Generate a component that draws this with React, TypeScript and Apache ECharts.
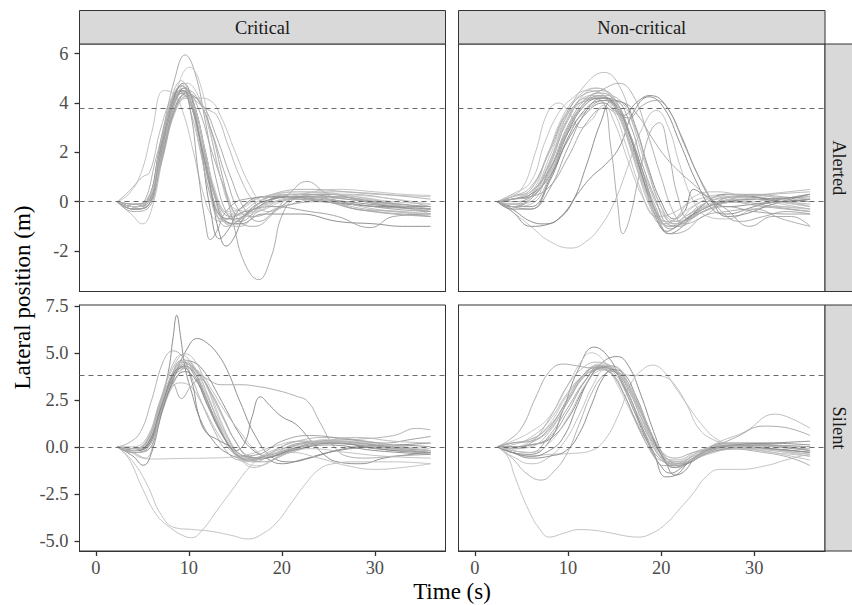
import React, { useEffect, useRef } from 'react';
import * as echarts from 'echarts';

type Pt = [number, number];

// ---------- data ----------
const COLUMNS = ['Critical', 'Non-critical'];
const ROWS = ['Alerted', 'Silent'];
const X_TICKS = [0, 10, 20, 30];
const Y_TICKS_ALERTED = [-2, 0, 2, 4, 6];
const Y_TICKS_SILENT = [-5, -2.5, 0, 2.5, 5, 7.5];
const REF_LINES = [0, 3.8];
const X_RANGE = [-1.76, 37.6];
const Y_RANGE_ALERTED = [-3.64, 6.39];
const Y_RANGE_SILENT = [-5.54, 7.54];

const CRITICAL_ALERTED: Pt[][] = [
  [[2.3,0],[4,-0.2],[5,-0.1],[6.5,1.8],[8,3.9],[9,4.5],[10,4.2],[11,2.8],[12,1.0],[13,-0.5],[14,-1.0],[15.5,-0.7],[18,0],[22,0.2],[27,0.1],[32,-0.1],[36,-0.2]],
  [[2.3,0],[4,-0.3],[5.3,-0.2],[6.8,2.0],[8.2,4.2],[9.2,4.7],[10.2,4.1],[11.3,2.4],[12.5,0.3],[13.8,-0.8],[15,-0.9],[17,-0.3],[21,0.3],[26,0.2],[31,0],[36,-0.3]],
  [[2.3,0],[4,-0.2],[5.5,0],[7,2.5],[8.5,5.0],[9.6,5.95],[10.6,5.3],[11.8,3.2],[13,0.8],[14.3,-0.6],[15.5,-0.8],[18,-0.1],[22,0.3],[27,0.1],[32,-0.2],[36,-0.4]],
  [[2.3,0],[4,-0.1],[5.5,0.1],[7,2.0],[8.5,4.3],[10.1,5.45],[11.2,4.8],[12.5,2.5],[13.8,0.5],[15,-0.3],[17,-0.4],[20,0],[24,0.3],[28,0.2],[32,0],[36,-0.1]],
  [[2.3,0],[3.5,0.3],[4.8,1.1],[6,2.8],[7.3,4.5],[8.3,4.4],[9.3,3.7],[10.5,2.0],[11.5,0.4],[12.5,-0.6],[13.5,-0.8],[15,-0.4],[18,0.2],[23,0.4],[28,0.2],[32,-0.1],[36,-0.5]],
  [[2.3,0],[3.5,0.4],[5,1.0],[5.8,1.2],[7,3.0],[8.3,4.3],[9.3,4.5],[10.3,3.5],[11.5,1.6],[12.5,0],[13.5,-0.7],[15,-0.6],[18,0.1],[22,0.3],[27,0.3],[32,0.1],[36,-0.2]],
  [[2.3,0],[3.8,-0.5],[5,-0.9],[6,-0.3],[7.3,2.0],[8.5,3.8],[9.5,4.3],[10.5,3.8],[11.8,2.0],[13,0.2],[14.5,-0.5],[16,-0.5],[19,0],[23,0.1],[28,-0.3],[32,-0.4],[36,-0.6]],
  [[2.3,0],[4,-0.2],[5.5,0],[7,2.4],[8.5,4.4],[9.3,4.7],[10.2,3.6],[11,1.2],[11.8,-0.9],[12.3,-1.54],[13,-1.2],[14,-0.4],[16,0.1],[20,0.2],[25,0],[30,-0.2],[36,-0.3]],
  [[2.3,0],[4,-0.3],[5.5,-0.2],[7,1.8],[8.5,4.0],[9.5,4.6],[10.5,4.0],[11.5,2.4],[12.5,0.2],[13.3,-1.3],[14,-1.8],[14.8,-1.5],[16,-0.6],[18,0],[22,0.2],[27,0],[32,-0.2],[36,-0.3]],
  [[2.3,0],[4,-0.2],[5.5,0],[7,2.2],[8.5,4.3],[9.4,4.8],[10.3,4.2],[11.3,2.2],[12.3,-0.3],[13.3,-1.5],[14.3,-1.1],[15.5,-0.3],[18,0.2],[22,0.1],[27,-0.1],[32,-0.2],[36,-0.2]],
  [[2.3,0],[4,-0.2],[5.5,-0.1],[7,1.6],[8.5,3.8],[9.8,4.4],[11,4.1],[12.3,3.0],[13.5,1.2],[14.8,-0.9],[16,-2.5],[17.5,-3.16],[18.8,-2.3],[20.2,-0.4],[22,0.2],[25,0.3],[29,0],[33,-0.2],[36,-0.3]],
  [[2.3,0],[4,-0.1],[5.5,0.1],[7,1.7],[8.5,3.6],[9.8,4.2],[11,4.2],[12.3,4.1],[13.5,3.4],[15,2.0],[16.5,0.7],[17.8,0],[19.5,-0.2],[22,0.3],[26,0.4],[30,0.3],[36,0.2]],
  [[2.3,0],[4,-0.2],[5.5,-0.1],[7.2,2.0],[8.7,4.0],[9.8,4.4],[11,3.8],[12.5,2.0],[14,0.4],[15.5,-0.8],[17,-1.0],[19,-0.5],[21,0.4],[22.7,0.82],[24.5,0.4],[27,-0.2],[30,-0.4],[33,-0.5],[36,-0.6]],
  [[2.3,0],[4,-0.2],[5.5,0],[7,2.1],[8.5,4.2],[9.7,4.4],[11,4.0],[12.2,3.7],[13,3.5],[14.2,2.3],[15.5,1.0],[17,0],[18.5,-0.4],[21,-0.1],[25,0.2],[30,0],[36,-0.4]],
  [[2.3,0],[4,-0.2],[5.5,-0.1],[7,2.1],[8.5,4.2],[9.4,4.5],[10.4,3.8],[11.5,2.0],[12.8,0.2],[14,-0.8],[15.5,-0.9],[18,-0.5],[22,-0.5],[26,-0.8],[30,-0.9],[33,-1.0],[36,-1.0]],
  [[2.3,0],[4,-0.2],[5.5,-0.1],[7.1,2.3],[8.6,4.3],[9.6,4.6],[10.6,3.9],[11.8,2.0],[13,0.1],[14.5,-0.6],[16,-0.4],[19,-0.2],[23,-0.4],[26,-0.6],[29.5,-1.05],[32,-0.6],[36,-0.5]],
  [[2.3,0],[4,-0.3],[5.5,-0.2],[7,1.9],[8.6,4.1],[9.7,4.5],[10.8,3.6],[12,1.6],[13.2,-0.2],[14.5,-0.9],[16,-0.6],[19,0.3],[23,0.5],[27,0.4],[31,0.3],[36,0.1]],
  [[2.3,0],[4,-0.1],[5.5,0],[7,2.4],[8.4,4.5],[9.2,4.9],[10,4.3],[11,2.6],[12.2,0.4],[13.5,-0.7],[15,-0.7],[17,-0.2],[20,0.3],[25,0.1],[30,-0.3],[36,-0.5]],
  [[2.3,0],[4,-0.1],[5.5,0],[7,1.8],[8.6,3.8],[10,4.3],[11.5,3.9],[13,2.6],[14.5,1.0],[16,-0.3],[17.5,-0.8],[19.5,-0.3],[22,0.2],[26,0.2],[30,0],[36,-0.2]],
  [[2.3,0],[4,-0.2],[5.5,0],[7,2.0],[8.5,4.0],[9.5,4.2],[10.5,3.9],[11.6,2.3],[12.8,0.5],[14,-0.4],[15.5,-0.3],[18,0.2],[22,0.4],[26,0.3],[30,0.2],[36,-0.1]],
  [[2.3,0],[4,-0.4],[5.5,-0.3],[7,1.5],[8.7,3.9],[10,4.5],[11.2,4.0],[12.5,2.8],[14,1.0],[15.5,-0.4],[17,-0.6],[20,-0.2],[24,0],[28,-0.3],[32,-0.5],[36,-0.6]],
  [[2.3,0],[4,-0.3],[5.5,-0.2],[7,2.0],[8.4,4.1],[9.4,4.6],[10.4,3.9],[11.5,2.2],[12.7,0.3],[14,-0.9],[15.5,-1.0],[17.5,-0.4],[21,0.1],[25,0],[29,-0.3],[33,-0.4],[36,-0.5]],
  [[2.3,0],[4,-0.2],[5.5,-0.1],[7.2,2.2],[8.6,4.2],[9.8,4.8],[11,4.3],[12.2,2.9],[13.4,1.0],[14.6,-0.3],[16,-0.6],[18.5,-0.1],[22,0.3],[26,0.5],[30,0.4],[33,0.3],[36,0.25]],
  [[2.3,0],[4,-0.3],[5.5,-0.2],[6.9,1.8],[8.3,3.9],[9.2,4.4],[10.1,4.0],[11.2,2.5],[12.3,0.6],[13.5,-0.6],[15,-0.7],[17,-0.3],[20,0.2],[24,0.1],[28,-0.1],[32,-0.3],[36,-0.4]],
];

const NONCRITICAL_ALERTED: Pt[][] = [
  [[2.4,0],[4,0.2],[6,0.6],[8,2.0],[10,3.6],[12,4.1],[13.8,4.2],[15.5,3.6],[17,2.3],[18.5,0.8],[20,-0.4],[21.5,-0.9],[23,-0.6],[26,0],[30,0.1],[33,0],[36,-0.1]],
  [[2.4,0],[4,-0.1],[6,0.3],[8,1.6],[10,3.6],[12,4.8],[13.9,5.24],[15.5,4.7],[17,3.1],[18.5,1.3],[20,-0.2],[21.5,-0.8],[23,-0.5],[26,0.1],[30,0.2],[33,0],[36,-0.2]],
  [[2.4,0],[3.5,0.2],[5,0.5],[6.5,2.0],[7.8,3.6],[9,4.0],[10.3,3.5],[11.3,3.0],[12.5,3.3],[13.8,3.9],[15,3.2],[16.5,1.6],[18,0.2],[19.5,-0.6],[21,-0.5],[24,0.1],[28,0.3],[32,0.2],[36,0]],
  [[2.4,0],[4,-0.4],[6,-1.0],[8,-0.9],[9.5,-0.5],[11,0.3],[12.5,1.0],[14,1.5],[15.5,2.2],[17,3.6],[18.7,4.25],[20.3,3.8],[22,2.4],[23.8,0.8],[25.5,-0.3],[27,-0.5],[30,-0.2],[33,0.1],[36,0.3]],
  [[2.4,0],[4,-0.2],[6,0.2],[8,1.5],[10,3.3],[12,4.2],[13.6,4.1],[14.6,2.2],[15.3,0],[15.9,-1.3],[16.6,-0.7],[17.6,1.0],[18.8,2.8],[19.8,3.2],[20.8,2.0],[21.8,0.2],[23,-0.7],[25,-0.3],[28,0],[32,-0.2],[36,-0.4]],
  [[2.4,0],[4,-0.4],[6,-1.0],[8,-1.6],[10.3,-1.88],[12,-1.6],[13.5,-1.0],[15,0],[16.5,1.5],[18,3.0],[19.5,3.7],[20.8,3.0],[22,1.5],[23.5,0],[25,-0.6],[27,-0.7],[30,-0.3],[33,-0.2],[36,-0.3]],
  [[2.4,0],[4,0.1],[6,0.3],[8,1.8],[9.5,3.2],[11,4.0],[12.5,4.3],[14,4.2],[15.5,3.4],[17,1.8],[18.3,0.4],[19.5,-0.6],[21,-1.0],[23,-0.5],[26,-0.1],[30,0],[33,-0.2],[36,-0.3]],
  [[2.4,0],[4,-0.2],[6,0.1],[8,1.2],[10,3.0],[11.8,4.0],[13.5,4.3],[15,3.9],[16.5,2.6],[18,1.0],[19.5,-0.4],[21,-1.1],[22.5,-0.8],[25,-0.2],[28,0.2],[32,0.1],[36,0]],
  [[2.4,0],[4,-0.3],[6,-0.3],[8,0.8],[10,2.6],[12,3.8],[13.8,4.1],[15.3,3.8],[16.8,2.6],[18.2,1.0],[19.5,-0.5],[20.8,-1.3],[22,-1.1],[24,-0.3],[27,0.3],[30,0.2],[33,0],[36,0.1]],
  [[2.4,0],[4,0.1],[6,0.3],[8,1.0],[10,2.5],[12,3.6],[13.8,4.0],[15,3.7],[16,3.5],[17.3,4.0],[18.8,4.3],[20.3,4.0],[22,2.8],[23.8,1.2],[25.5,0],[27,-0.6],[29,-0.5],[32,-0.1],[36,0.3]],
  [[2.4,0],[4,0.1],[6,0.2],[8,0.6],[10,1.8],[12,3.2],[14,3.8],[15.5,3.5],[16.5,3.4],[18,3.9],[19.5,4.1],[21,3.6],[22.5,2.3],[24.5,0.7],[26.5,-0.4],[28.5,-0.8],[31,-0.6],[33.5,-0.4],[36,-0.5]],
  [[2.4,0],[4,-0.3],[6,-0.8],[7.5,-0.9],[9,-0.7],[10.5,0],[12,1.5],[13.5,3.2],[14.8,4.1],[16,4.0],[17.3,3.0],[18.6,1.4],[20,0],[21.4,-0.7],[22.5,-0.4],[23.5,0.5],[24.5,0.3],[27,-0.2],[30,-0.1],[33,0],[36,0.1]],
  [[2.4,0],[4,0.2],[6,0.5],[8,2.1],[10,3.7],[12,4.4],[13.7,4.5],[15.3,4.0],[16.8,2.5],[18.2,0.8],[19.6,-0.6],[21,-1.3],[22.5,-1.2],[24.5,-0.6],[27,-0.4],[30,-0.3],[33,-0.7],[36,-1.0]],
  [[2.4,0],[4,-0.1],[6,0.0],[8,1.4],[10,3.4],[11.6,4.3],[13,4.6],[14.5,4.3],[16,3.0],[17.5,1.4],[19,0],[20.5,-0.8],[22,-0.8],[24,-0.2],[27,0.2],[31,0.3],[36,0.5]],
  [[2.4,0],[4,0.3],[6,0.8],[7.5,2.4],[9,3.6],[10.5,4.2],[12,4.5],[13.5,4.4],[15,3.6],[16.3,2.2],[17.6,0.7],[19,-0.5],[20.5,-0.9],[22.5,-0.4],[25,0.1],[29,0.3],[33,0.1],[36,-0.2]],
  [[2.4,0],[4,-0.2],[6,-0.3],[8,0.5],[10,2.2],[12,3.7],[13.7,4.2],[15.2,4.1],[16.7,3.1],[18,1.5],[19.4,0.1],[20.7,-0.9],[22,-1.0],[24,-0.5],[27,-0.2],[30,-0.4],[34,-0.5],[36,-0.5]],
  [[2.4,0],[4,0],[6,0.2],[8,1.1],[10,2.9],[12,4.1],[14,4.6],[15.5,4.8],[17,4.3],[18.5,2.8],[20,1.0],[21.3,-0.4],[22.5,-0.9],[24.5,-0.6],[27,0],[30,0.3],[33,0.2],[36,0.1]],
  [[2.4,0],[4,-0.1],[6,0.1],[8,1.6],[9.7,3.2],[11.3,4.0],[13,4.2],[14.6,4.0],[16.1,2.9],[17.5,1.2],[18.8,-0.2],[20,-0.9],[21.5,-0.7],[23.5,0.2],[26,0.4],[29,0.2],[33,-0.1],[36,-0.3]],
  [[2.4,0],[4,0.1],[6,0.4],[8,1.3],[10,2.8],[12,3.7],[14,4.1],[16,4.0],[17.5,3.5],[19,2.6],[20.5,1.8],[22,1.2],[23.5,0.7],[25,0.2],[27,-0.3],[29.5,-1.0],[32,-0.6],[34,-0.6],[36,-1.0]],
  [[2.4,0],[4,-0.2],[6,-0.2],[8,0.9],[10,2.8],[11.8,3.9],[13.5,4.2],[15,4.0],[16.5,2.8],[18,1.0],[19.3,-0.5],[20.6,-1.2],[22,-0.9],[24,-0.4],[27,0],[31,0.1],[36,0.2]],
  [[2.4,0],[4,0.1],[6,0.2],[8,1.3],[10,3.1],[12,4.2],[13.6,4.4],[15.2,4.0],[16.6,2.8],[18,1.2],[19.4,-0.2],[20.8,-1.0],[22.3,-0.9],[24.5,-0.3],[27,0],[31,-0.2],[36,-0.4]],
  [[2.4,0],[4,-0.2],[6,-0.1],[8,1.0],[10,2.9],[12,4.0],[13.9,4.3],[15.6,4.1],[17.2,3.0],[18.6,1.3],[20,-0.2],[21.4,-0.9],[23,-0.7],[25.5,-0.1],[29,0.2],[32,0.3],[36,0.4]],
  [[2.4,0],[4,0.2],[6,0.4],[7.8,1.9],[9.5,3.5],[11.2,4.3],[12.8,4.6],[14.4,4.4],[15.9,3.3],[17.3,1.6],[18.7,0.1],[20,-0.8],[21.5,-0.8],[23.5,-0.2],[26,0.2],[30,0.1],[36,-0.2]],
];

const CRITICAL_SILENT: Pt[][] = [
  [[2.3,0],[4,-0.2],[5.5,0.3],[6.8,2.0],[7.8,4.0],[8.3,5.8],[8.7,7.0],[9.1,5.9],[9.6,4.2],[10.3,2.9],[11.2,1.5],[12.5,0.4],[14,-0.3],[16,-0.6],[19,-0.4],[23,0.2],[28,0.1],[32,-0.2],[36,-0.3]],
  [[2.3,0],[4,-0.3],[5.5,-0.2],[7,1.8],[8.5,3.8],[9.8,5.2],[10.9,5.76],[12,5.5],[13,5.0],[14.1,4.1],[15.5,2.4],[17.3,0.45],[19.1,-0.6],[21,-0.8],[23,-0.6],[26,-0.2],[30,0],[36,0.2]],
  [[2.3,0],[4,-0.2],[5.5,0.2],[7,2.3],[8.2,3.4],[9.2,2.57],[10.2,3.2],[11.2,3.6],[12.5,2.8],[13.8,1.5],[15,0.3],[16.5,-0.5],[18,-0.6],[21,-0.1],[25,0.3],[30,0.1],[36,-0.2]],
  [[2.3,0],[4,-0.2],[5.5,0],[7,2.0],[8.5,3.8],[9.6,4.3],[10.7,3.7],[12,2.3],[13.5,0.8],[15,-0.2],[16,0.2],[16.8,1.6],[17.7,2.66],[18.7,2.2],[20,1.6],[21.5,1.2],[23,0.4],[24.5,-0.4],[26,-0.8],[28.5,-0.9],[31,-0.6],[34,-0.4],[36,-0.3]],
  [[2.3,0],[4,-0.1],[5.5,0.3],[7,2.4],[8.5,4.0],[9.7,4.5],[10.8,4.0],[12,3.6],[13.5,3.3],[15.5,3.3],[17.5,3.2],[19.5,3.0],[21.5,2.7],[22.8,2.4],[24.1,1.3],[25.5,0.1],[27,-0.5],[29,-0.6],[32,-0.5],[36,-0.4]],
  [[2.3,0],[3.5,-0.6],[5,-2.2],[6.5,-3.6],[8,-4.3],[9.5,-4.75],[10.3,-4.83],[11.5,-4.4],[13,-3.4],[14.8,-2.2],[16.5,-1.1],[18,-0.5],[20,-0.3],[23,-0.1],[27,-0.3],[31,-0.5],[36,-0.6]],
  [[2.3,0],[4,-0.8],[5.5,-2.0],[7,-3.6],[8.5,-4.3],[10.5,-4.4],[12.5,-4.5],[14.5,-4.7],[16.4,-4.9],[18,-4.6],[19.5,-4.0],[21,-3.0],[22.5,-2.0],[24,-1.2],[25.5,-0.9],[28,-0.8],[32,-0.8],[36,-0.9]],
  [[2.3,0],[3.8,-0.3],[5,-0.6],[6,-0.65],[9,-0.62],[12,-0.6],[14.5,-0.55],[16.5,-0.4],[19,0],[22,0.3],[26,0.2],[30,0],[33,-0.1],[36,-0.2]],
  [[2.3,0],[3.5,0.2],[4.8,0.8],[6,2.5],[7.3,4.6],[8.3,5.1],[9.3,4.8],[10.3,3.7],[11.5,2.2],[12.8,0.8],[14,-0.2],[15.5,-0.7],[17.5,-0.6],[20,-0.1],[24,0.3],[28,0.4],[32,0.6],[34.5,0.98],[36,0.9]],
  [[2.3,0],[4,-0.1],[5.5,0.4],[7,2.6],[8.5,4.4],[9.6,4.95],[10.6,4.6],[11.8,3.4],[13,1.8],[14.3,0.4],[15.5,-0.6],[17,-1.1],[19,-0.7],[22,-0.1],[26,0.2],[30,0],[36,-0.3]],
  [[2.3,0],[4,-0.2],[5.5,0.1],[6.8,2.0],[8.2,3.8],[9.3,4.5],[10.3,4.2],[11.5,3.0],[12.8,1.5],[14,0.3],[15.3,-0.5],[17,-0.8],[19,-0.4],[22,0.2],[26,0.3],[30,0.1],[33,-0.1],[36,-0.2]],
  [[2.3,0],[4,-0.3],[5.5,-0.1],[7,1.7],[8.5,3.5],[9.8,4.2],[11,3.9],[12.3,2.8],[13.6,1.2],[14.8,0],[16,-0.8],[17.5,-1.0],[19.5,-0.6],[22,0],[25,0.4],[29,0.3],[33,0],[36,-0.2]],
  [[2.3,0],[4,-0.2],[5.5,0],[7,2.2],[8.3,4.0],[9.3,4.6],[10.5,4.5],[11.8,3.9],[13,2.9],[14.2,1.8],[15.3,0.8],[16.5,0],[18,-0.5],[20,-0.9],[22,-0.7],[25,-0.3],[28,0],[32,0.1],[36,0]],
  [[2.3,0],[4,-0.3],[5.3,-0.6],[6.5,0.8],[7.8,2.8],[9,3.4],[10.2,3.2],[11.5,2.2],[13,0.8],[14.5,-0.2],[16,-0.7],[18,-0.5],[21,0.2],[25,0.5],[29,0.3],[33,-0.1],[36,-0.4]],
  [[2.3,0],[4,-0.1],[5.5,0.2],[7,2.2],[8.5,4.1],[9.7,4.6],[10.8,4.1],[12,2.8],[13.3,1.1],[14.6,-0.1],[16,-0.8],[18,-0.6],[21,-0.3],[24,-0.6],[27,-1.0],[30,-1.2],[33,-1.1],[36,-0.9]],
  [[2.3,0],[4,-0.2],[5.5,0.1],[7,2.0],[8.5,4.0],[9.5,4.3],[10.5,4.0],[11.7,2.8],[13,1.3],[14.3,0.1],[15.6,-0.5],[17.5,-0.4],[20,0.3],[23,0.6],[27,0.4],[31,0.2],[34,0.4],[36,0.55]],
  [[2.3,0],[4,-0.5],[5.1,-0.98],[6,-0.3],[7.2,2.0],[8.5,3.6],[9.6,4.0],[10.8,3.5],[12,2.2],[13.5,0.7],[15,-0.3],[16.5,-0.7],[19,-0.5],[22,0],[26,0.2],[30,-0.1],[36,-0.3]],
  [[2.3,0],[4,0],[5.5,0.5],[7,2.5],[8.5,3.8],[10,4.2],[11.3,3.9],[12.5,3.0],[14,1.8],[15.5,0.8],[17,-0.1],[18.5,-0.5],[21,-0.3],[24,0.2],[28,0.5],[32,0.3],[36,0.2]],
  [[2.3,0],[4,-0.2],[5.5,0.1],[7,2.1],[8.5,4.0],[9.5,4.2],[10.3,3.5],[11,1.8],[11.8,0.8],[13,0.4],[14.5,0],[16,-0.5],[18,-0.6],[21,-0.2],[25,0.1],[30,-0.2],[36,-0.4]],
  [[2.3,0],[4,-0.2],[5.5,0.2],[7,2.3],[8.4,4.1],[9.5,4.6],[10.6,4.2],[11.8,3.0],[13,1.5],[14.2,0.3],[15.5,-0.5],[17,-0.7],[19.5,-0.3],[23,0.2],[27,0.3],[31,0.1],[36,-0.1]],
  [[2.3,0],[4,-0.3],[5.5,-0.1],[7,1.9],[8.5,3.9],[9.7,4.4],[10.9,4.0],[12.2,3.0],[13.6,1.6],[15,0.3],[16.4,-0.6],[18,-0.8],[20.5,-0.3],[24,0.2],[28,0.2],[32,-0.1],[36,-0.3]],
  [[2.3,0],[4,-0.1],[5.5,0.3],[6.9,2.4],[8.2,4.3],[9.2,4.9],[10.2,4.5],[11.4,3.3],[12.7,1.9],[14,0.6],[15.3,-0.3],[16.8,-0.6],[19,-0.2],[22,0.3],[26,0.3],[30,0],[36,-0.4]],
];

const NONCRITICAL_SILENT: Pt[][] = [
  [[2.4,0],[4,-0.1],[6,0.2],[8,0.9],[10,2.4],[11.5,3.7],[13,4.3],[14.5,4.2],[16,3.2],[17.5,1.7],[19,0.3],[20.5,-0.6],[22,-0.8],[24,-0.3],[27,0.1],[30,0],[33,-0.2],[36,-0.4]],
  [[2.4,0],[4,-0.3],[6,-0.4],[8,0.3],[9.5,2.0],[11,4.0],[12.8,5.3],[14.3,4.8],[15.6,3.6],[17,2.0],[18.5,0.3],[19.8,-0.9],[21,-1.4],[22.5,-1.0],[25,-0.2],[28,0.1],[32,0],[36,-0.2]],
  [[2.4,0],[4,0],[6,0.1],[8,0.4],[10,1.5],[11.8,3.2],[13.5,4.4],[15.3,4.8],[16.5,4.3],[17.8,2.8],[19.2,0.8],[20.5,-0.8],[21.5,-1.5],[22.5,-1.3],[24,-0.4],[27,0.2],[31,0.2],[36,0.1]],
  [[2.4,0],[4,0.3],[6,0.8],[8,1.6],[10,3.3],[11.5,4.6],[12.5,5.0],[13.8,4.6],[15.3,3.3],[16.8,1.8],[18.3,0.3],[19.8,-0.7],[21.5,-0.8],[24,-0.3],[27,0],[30,0.2],[33,0],[36,-0.1]],
  [[2.4,0],[3.5,0.3],[5,1.0],[6.5,2.6],[8,4.0],[9.5,4.4],[11,4.3],[12.5,4.2],[14,4.2],[15.5,3.8],[17,2.7],[18.5,1.2],[20,-0.2],[21.5,-0.6],[23.5,-0.3],[27,0],[31,-0.1],[36,-0.3]],
  [[2.4,0],[4,-0.3],[6,-0.5],[8,-0.4],[10.5,-0.35],[12.5,-0.2],[14,0.4],[15.5,1.8],[16.8,3.4],[18,4.1],[19.1,4.34],[20.3,4.0],[21.6,3.1],[23,2.1],[24.5,1.1],[26,0.4],[28,0],[31,-0.2],[34,-0.5],[36,-0.7]],
  [[2.4,0],[4,0],[6,0.3],[8,1.2],[10,2.8],[12,3.9],[13.8,4.2],[15.5,3.9],[17,3.8],[19,3.8],[20.5,3.7],[21.6,3.2],[22.8,2.2],[24,1.0],[25.5,0.4],[27,0.2],[29,0.1],[32,0],[36,-0.1]],
  [[2.4,0],[3.5,-0.5],[4.3,-1.6],[5.8,-3.4],[7,-4.4],[8,-4.8],[9.5,-4.6],[11.2,-4.4],[13,-4.45],[14.8,-4.6],[16.3,-4.75],[17.6,-4.8],[19,-4.6],[20.5,-4.1],[22,-3.3],[23.4,-2.5],[24.8,-1.6],[26.3,-1.2],[28.4,-1.2],[31.3,-1.0],[33.4,-0.7],[35.8,-0.4]],
  [[2.4,0],[4,-0.6],[5.5,-1.4],[7.1,-1.77],[8.5,-1.3],[9.9,-0.35],[11.2,1.2],[12.5,2.8],[13.8,3.8],[15,4.0],[16.3,3.4],[17.6,2.0],[19,0.5],[20.3,-0.6],[21.8,-1.0],[23.5,-0.7],[26,-0.2],[30,-0.1],[36,-0.3]],
  [[2.4,0],[4,0.1],[6,0.5],[8,1.4],[10,2.9],[11.8,3.9],[13.3,4.3],[14.8,4.0],[16.2,2.9],[17.6,1.4],[19,0.1],[20.4,-0.8],[21.8,-1.1],[23.5,-0.6],[26,0.2],[29,0.8],[32.2,1.74],[34,1.5],[36,0.98]],
  [[2.4,0],[4,-0.2],[6,-0.3],[8,0.6],[10,2.1],[11.8,3.5],[13.5,4.3],[15,4.1],[16.5,3.0],[18,1.4],[19.5,0],[21,-0.9],[22.5,-0.9],[25,-0.2],[28,0.5],[31,1.1],[33,1.05],[36,0.6]],
  [[2.4,0],[4,-0.3],[6,-0.5],[8,-0.2],[9.5,0.5],[11,2.2],[12.3,3.6],[13.6,4.2],[15,4.0],[16.4,2.9],[17.8,1.2],[19.2,-0.3],[20.5,-1.6],[21.6,-1.5],[23,-0.8],[25,-0.2],[28,0],[32,-0.1],[36,-0.3]],
  [[2.4,0],[4,0.2],[6,0.4],[8,1.1],[10,2.5],[11.7,3.7],[13.2,4.1],[14.7,3.9],[16.1,2.7],[17.5,1.1],[19,-0.3],[20.3,-1.0],[21.8,-0.9],[24,-0.4],[27,-0.1],[31,-0.3],[34,-0.6],[36,-1.0]],
  [[2.4,0],[4,-0.1],[6,0.2],[8,1.5],[10,3.3],[11.6,4.2],[13,4.5],[14.5,4.3],[16,3.3],[17.4,1.8],[18.8,0.4],[20.2,-0.6],[21.7,-0.7],[24,-0.2],[28,0.2],[32,0.1],[36,0]],
  [[2.4,0],[4,-0.5],[6,-0.9],[7.5,-0.7],[9.5,0.2],[11.3,1.8],[12.7,3.3],[14,4.1],[15.3,4.0],[16.7,3.0],[18.2,1.4],[19.7,-0.1],[21,-0.8],[22.5,-0.8],[25,-0.4],[28,-0.1],[32,-0.3],[36,-0.5]],
  [[2.4,0],[4,0],[6,0.1],[8,0.5],[10,1.9],[11.7,3.4],[13.3,4.2],[14.8,4.3],[16.2,3.6],[17.6,2.2],[19,0.6],[20.4,-0.5],[21.8,-0.9],[24,-0.5],[27,-0.1],[31,0.1],[36,-0.2]],
  [[2.4,0],[4,-0.3],[6,-0.6],[8,-0.5],[9.8,-0.2],[11.2,0.7],[12.5,2.2],[13.7,3.6],[14.8,4.1],[16,3.9],[17.3,2.7],[18.7,1.0],[20,-0.4],[21.3,-1.1],[22.7,-0.9],[25,-0.3],[28,0.1],[32,0.2],[36,0.3]],
  [[2.4,0],[4,-0.1],[6,0],[8,0.8],[10,2.4],[11.8,3.8],[13.4,4.4],[15,4.2],[16.4,3.2],[17.8,1.6],[19.2,0.1],[20.6,-0.8],[22,-0.9],[24.5,-0.3],[28,0],[32,-0.2],[36,-0.5]],
  [[2.4,0],[4,0.2],[6,0.3],[8,1.0],[10,2.6],[11.6,3.8],[13,4.2],[14.4,4.0],[15.8,3.0],[17.2,1.5],[18.6,0.2],[20,-0.7],[21.5,-1.0],[23.5,-0.6],[26,0],[30,0.1],[36,0]],
  [[2.4,0],[4,-0.2],[6,-0.3],[8,0.2],[10,1.6],[12,3.4],[13.6,4.1],[15.1,4.2],[16.6,3.3],[18,1.8],[19.4,0.3],[20.8,-0.7],[22.3,-0.8],[25,-0.3],[28,0],[32,-0.2],[36,-0.4]],
];

// ---------- styling ----------
const LIGHT_SHADES = ['#ababab', '#b8b8b8', '#a1a1a1', '#c3c3c3', '#a6a6a6', '#b3b3b3', '#bdbdbd', '#9a9a9a'];
const PALE_SHADE = '#bcbcbc';
const DARK_SHADE = '#848484';
const DARK_LINES = [
  [8, 9, 14],
  [3, 8, 9, 11, 19],
  [0, 1, 3, 12, 16, 18],
  [1, 2, 11, 16],
];
const PALE_LINES = [
  [4, 11],
  [2, 5],
  [5, 6, 7],
  [5, 7],
];
const SERIF = "'Liberation Serif', 'DejaVu Serif', serif";
const AXIS_DARK = '#333333';

const PANELS = [
  { lines: CRITICAL_ALERTED, left: 79.5, top: 44, width: 366, height: 247.5, yRange: Y_RANGE_ALERTED, yTicks: Y_TICKS_ALERTED, showX: false, showY: true },
  { lines: NONCRITICAL_ALERTED, left: 458.5, top: 44, width: 366.5, height: 247.5, yRange: Y_RANGE_ALERTED, yTicks: Y_TICKS_ALERTED, showX: false, showY: false },
  { lines: CRITICAL_SILENT, left: 79.5, top: 305, width: 366, height: 246, yRange: Y_RANGE_SILENT, yTicks: Y_TICKS_SILENT, showX: true, showY: true },
  { lines: NONCRITICAL_SILENT, left: 458.5, top: 305, width: 366.5, height: 246, yRange: Y_RANGE_SILENT, yTicks: Y_TICKS_SILENT, showX: true, showY: false },
];

export default function App() {
  const ref = useRef<HTMLDivElement>(null);

  useEffect(() => {
    if (!ref.current) return;
    const chart = echarts.init(ref.current, null, { renderer: 'svg' });

    const grid = PANELS.map((p) => ({
      left: p.left, top: p.top, width: p.width, height: p.height,
      show: true, borderColor: AXIS_DARK, borderWidth: 1, backgroundColor: '#ffffff',
    }));

    const xAxis = PANELS.map((p, i) => ({
      type: 'value', gridIndex: i, min: X_RANGE[0], max: X_RANGE[1],
      axisLine: { show: true, onZero: false, lineStyle: { color: AXIS_DARK, width: 1 } },
      splitLine: { show: false },
      axisTick: { show: p.showX, customValues: X_TICKS, length: 5, lineStyle: { color: AXIS_DARK, width: 1.3 } },
      axisLabel: { show: p.showX, customValues: X_TICKS, margin: 8, fontSize: 18.4, color: '#4d4d4d', fontFamily: SERIF },
    }));

    const yAxis = PANELS.map((p, i) => ({
      type: 'value', gridIndex: i, min: p.yRange[0], max: p.yRange[1],
      axisLine: { show: true, onZero: false, lineStyle: { color: AXIS_DARK, width: 1 } },
      splitLine: { show: false },
      axisTick: { show: p.showY, customValues: p.yTicks, length: 5, lineStyle: { color: AXIS_DARK, width: 1.3 } },
      axisLabel: {
        show: p.showY, customValues: p.yTicks, margin: 11, fontSize: 18.4, color: '#4d4d4d', fontFamily: SERIF,
        formatter: (v: number) => (i >= 2 ? v.toFixed(1) : String(v)),
      },
    }));

    const series: any[] = [];
    PANELS.forEach((p, i) => {
      p.lines.forEach((line, j) => {
        const color = DARK_LINES[i].includes(j)
          ? DARK_SHADE
          : PALE_LINES[i].includes(j)
            ? PALE_SHADE
            : LIGHT_SHADES[j % LIGHT_SHADES.length];
        series.push({
          type: 'line', xAxisIndex: i, yAxisIndex: i, data: line,
          showSymbol: false, symbol: 'none', smooth: 0.45,
          silent: true, z: 2,
          lineStyle: { width: 0.9, color },
        });
      });
      series.push({
        type: 'line', xAxisIndex: i, yAxisIndex: i, data: [], silent: true, z: 5,
        markLine: {
          silent: true, symbol: ['none', 'none'], label: { show: false },
          lineStyle: { type: [5, 4], color: '#6a6a6a', width: 1.1 },
          data: REF_LINES.map((v) => ({ yAxis: v })),
        },
      });
    });

    const stripText = { fontSize: 18.4, fontFamily: SERIF, fill: '#1a1a1a', align: 'center', verticalAlign: 'middle' };
    const graphic: any[] = [];
    COLUMNS.forEach((c, i) => {
      const p = PANELS[i];
      graphic.push({ type: 'rect', shape: { x: p.left, y: 10.5, width: p.width, height: 33.5 }, style: { fill: '#d9d9d9', stroke: AXIS_DARK, lineWidth: 1 }, z: 1 });
      graphic.push({ type: 'text', x: p.left + p.width / 2, y: 27.5, style: { ...stripText, text: c }, z: 2 });
    });
    ROWS.forEach((r, i) => {
      const p = PANELS[i * 2 + 1];
      graphic.push({ type: 'rect', shape: { x: p.left + p.width, y: p.top, width: 30, height: p.height }, style: { fill: '#d9d9d9', stroke: AXIS_DARK, lineWidth: 1 }, z: 1 });
      graphic.push({ type: 'text', x: p.left + p.width + 13.5, y: p.top + p.height / 2, rotation: -Math.PI / 2, style: { ...stripText, text: r }, z: 2 });
    });
    graphic.push({ type: 'text', x: 22, y: 297.5, rotation: Math.PI / 2, style: { text: 'Lateral position (m)', fontSize: 23, fontFamily: SERIF, fill: '#000000', align: 'center', verticalAlign: 'middle' } });
    graphic.push({ type: 'text', x: 452, y: 591, style: { text: 'Time (s)', fontSize: 23, fontFamily: SERIF, fill: '#000000', align: 'center', verticalAlign: 'middle' } });

    chart.setOption({
      animation: false,
      backgroundColor: '#ffffff',
      grid, xAxis, yAxis, series, graphic,
    });

    return () => chart.dispose();
  }, []);

  return (
    <div
      ref={ref}
      style={{ position: 'fixed', left: 0, top: 0, width: 852, height: 605, background: '#ffffff' }}
    />
  );
}
